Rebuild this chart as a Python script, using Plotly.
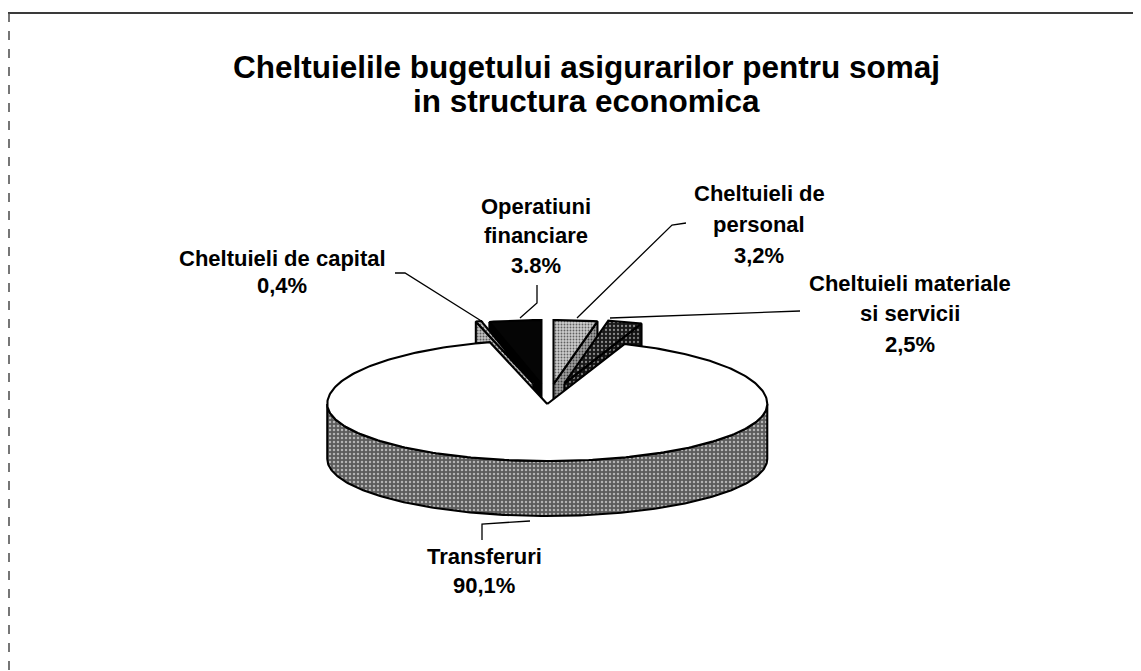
import numpy as np
import plotly.graph_objects as go

# ---------------- data ----------------
TITLE_LINES = ["Cheltuielile bugetului asigurarilor pentru somaj", "in structura economica"]
categories = [
    "Cheltuieli de\npersonal",
    "Cheltuieli materiale\nsi servicii",
    "Transferuri",
    "Cheltuieli de capital",
    "Operatiuni\nfinanciare",
]
values = [3.2, 2.5, 90.1, 0.4, 3.8]
value_labels = ["3,2%", "2,5%", "90,1%", "0,4%", "3.8%"]

# ---------------- style / geometry ----------------
PAGE_MARGIN = 8  # default body margin of the html page
W, H = 1141, 671
CX0, CY0 = 548.0, 400.0
RX, RY_FRONT, RY_BACK, DEPTH = 220.0, 57.0, 64.0, 55.0
EXPLODE = [0.25, 0.27, 0.07, 0.27, 0.25]
LINE_W = 2.1
FONT = "Arial, Liberation Sans, Helvetica, sans-serif"

TOP_STYLE = [
    dict(bg="#cccccc", fg="#606060", shape=".", size=3, sol=0.3),
    dict(bg="#1a1a1a", fg="#8a8a8a", shape=".", size=4, sol=0.25),
    dict(bg="#ffffff", fg=None),
    dict(bg="#cccccc", fg="#606060", shape=".", size=3, sol=0.3),
    dict(bg="#050505", fg=None),
]
WALL_STYLE = [
    dict(bg="#a0a0a0", fg="#404040", shape=".", size=3, sol=0.35),
    dict(bg="#121212", fg="#7a7a7a", shape=".", size=4, sol=0.25),
    dict(bg="#5c5c5c", fg="#b4b4b4", shape=".", size=4, sol=0.3),
    dict(bg="#c4c4c4", fg="#5a5a5a", shape=".", size=3, sol=0.35),
    dict(bg="#000000", fg=None),
]

# label positions: (center x, first line y, line spacing)
LABEL_POS = [
    (759, 193, 31),
    (910, 283, 30.5),
    (484, 556, 29),
    (282, 258, 27),
    (536, 206, 29.5),
]
LEADERS = [
    [(686, 223), (672, 225), (577, 318)],
    [(800, 311), (610, 318)],
    [(482, 540), (482, 524), (530, 521)],
    [(395, 273), (405, 273), (483, 322)],
    [(537, 285), (537, 303), (520, 318)],
]

fig = go.Figure()


def add_poly(xs, ys, st):
    xs = list(xs) + [xs[0]]
    ys = list(ys) + [ys[0]]
    kw = dict(x=xs, y=ys, mode="lines", fill="toself",
              line=dict(color="#000000", width=LINE_W),
              hoverinfo="skip", showlegend=False, fillcolor=st["bg"])
    if st.get("fg"):
        kw["fillpattern"] = dict(shape=st["shape"], bgcolor=st["bg"], fgcolor=st["fg"],
                                 size=st["size"], solidity=st["sol"], fillmode="replace")
    fig.add_trace(go.Scatter(**kw))


def pt(cx, cy, th, dz=0.0):
    c = np.cos(th)
    ry = np.where(c > 0, RY_BACK, RY_FRONT)
    return cx + RX * np.sin(th), cy - ry * c + dz


total = float(sum(values))
cum = np.concatenate([[0.0], np.cumsum(values)]) / total * 2 * np.pi

slices = []
for i, v in enumerate(values):
    a, b = cum[i], cum[i + 1]
    m = 0.5 * (a + b)
    e = EXPLODE[i]
    cm = np.cos(m)
    ry = RY_BACK if cm > 0 else RY_FRONT
    cx = CX0 + e * RX * np.sin(m)
    cy = CY0 - e * ry * cm
    slices.append((i, a, b, m, cx, cy))

# painter's order: back first
slices.sort(key=lambda s: -np.cos(s[3]))

for i, a, b, m, cx, cy in slices:
    lo, hi = max(a, np.pi / 2), min(b, 3 * np.pi / 2)
    if lo < hi:
        n = max(4, int((hi - lo) / (2 * np.pi) * 360))
        t = np.linspace(lo, hi, n)
        x1, y1 = pt(cx, cy, t)
        x2, y2 = pt(cx, cy, t[::-1], DEPTH)
        add_poly(np.concatenate([x1, x2]), np.concatenate([y1, y2]), WALL_STYLE[i])
    for ang, vis in ((a, np.sin(a) < -1e-9), (b, np.sin(b) > 1e-9)):
        if vis:
            ex, ey = pt(cx, cy, ang)
            add_poly([cx, ex, ex, cx], [cy, ey, ey + DEPTH, cy + DEPTH], WALL_STYLE[i])
    n = max(3, int((b - a) / (2 * np.pi) * 360))
    t = np.linspace(a, b, n)
    xt, yt = pt(cx, cy, t)
    xt = np.concatenate([[cx], xt])
    yt = np.concatenate([[cy], yt])
    add_poly(xt, yt, TOP_STYLE[i])

# ---------------- labels ----------------
annotations = []
for li, tl in enumerate(TITLE_LINES):
    annotations.append(dict(x=586, y=67 + li * 34, xref="x", yref="y", text="<b>%s</b>" % tl,
                            showarrow=False, xanchor="center", yanchor="middle",
                            font=dict(family=FONT, size=31.5, color="#000000")))
for i, cat in enumerate(categories):
    lx, ly, sp = LABEL_POS[i]
    lines = cat.split("\n") + [value_labels[i]]
    for k, ln in enumerate(lines):
        annotations.append(dict(x=lx, y=ly + k * sp, xref="x", yref="y", text="<b>%s</b>" % ln,
                                showarrow=False, xanchor="center", yanchor="middle",
                                font=dict(family=FONT, size=22, color="#000000")))

shapes = []
for path in LEADERS:
    d = "M " + " L ".join("%g,%g" % p for p in path)
    shapes.append(dict(type="path", path=d, xref="x", yref="y",
                       line=dict(color="#000000", width=1.3)))
shapes.append(dict(type="line", x0=8, y0=13, x1=1141, y1=13, xref="x", yref="y",
                   line=dict(color="#3a3a3a", width=2)))
shapes.append(dict(type="line", x0=9, y0=13, x1=9, y1=671, xref="x", yref="y",
                   line=dict(color="#4a4a4a", width=1.5, dash="dash")))

fig.update_layout(
    width=W - PAGE_MARGIN, height=H - PAGE_MARGIN,
    margin=dict(l=0, r=0, t=0, b=0),
    paper_bgcolor="#ffffff", plot_bgcolor="#ffffff",
    xaxis=dict(range=[PAGE_MARGIN, W], visible=False, fixedrange=True),
    yaxis=dict(range=[H, PAGE_MARGIN], visible=False, fixedrange=True),
    annotations=annotations, shapes=shapes,
    showlegend=False,
)

fig.write_html("out.html")
